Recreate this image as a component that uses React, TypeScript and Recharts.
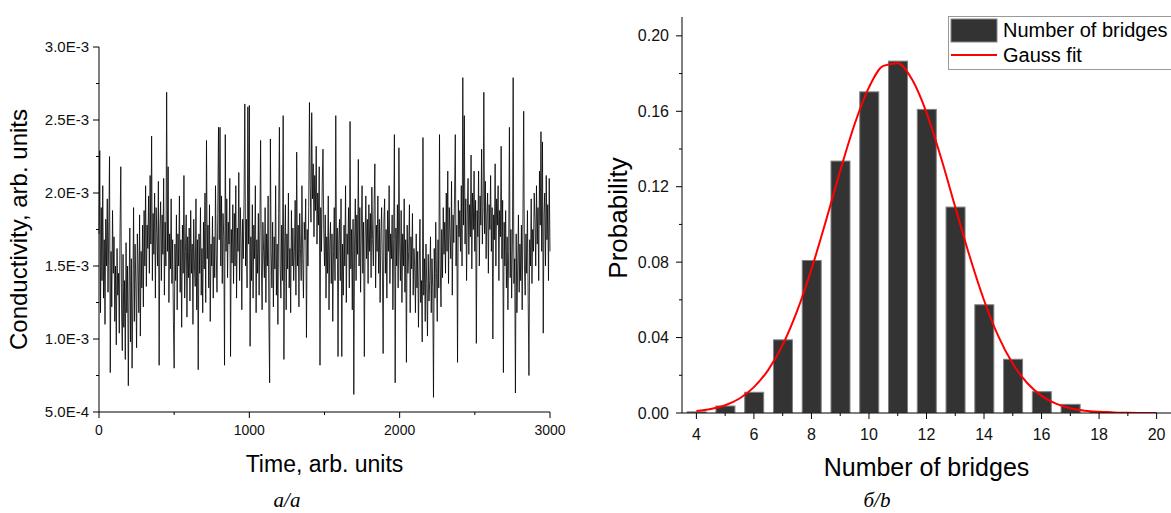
import {
  Bar,
  ComposedChart,
  Legend,
  Line,
  LineChart,
  XAxis,
  YAxis,
} from "recharts";

const FONT = "'Liberation Sans', Arial, sans-serif";

// left panel: conductivity, sampled every 5 time units, in 1e-5 units
const timeStep = 5;
const conductivity = [
  172, 229, 118, 190, 140, 205, 128, 168, 110, 182, 150, 196, 132, 176, 225, 77, 160, 122, 188, 145,
  170, 112, 150, 96, 162, 130, 145, 104, 176, 218, 120, 92, 158, 108, 140, 86, 166, 118, 150, 68,
  132, 176, 98, 155, 80, 128, 190, 112, 165, 138, 94, 172, 150, 118, 185, 102, 160, 135, 178, 122,
  188, 150, 205, 136, 178, 162, 198, 145, 212, 165, 239, 140, 186, 158, 200, 128, 190, 172, 150, 208,
  82, 176, 194, 140, 185, 158, 210, 130, 180, 150, 269, 160, 218, 125, 172, 148, 196, 138, 168, 112,
  80, 165, 140, 185, 120, 172, 150, 198, 132, 168, 108, 178, 145, 212, 128, 160, 185, 115, 170, 142,
  176, 126, 188, 145, 165, 110, 182, 150, 136, 196, 120, 168, 79, 172, 145, 190, 130, 162, 118, 180,
  148, 200, 125, 236, 155, 178, 135, 192, 112, 165, 150, 184, 128, 170, 142, 205, 158, 132, 186, 245,
  168, 245, 150, 198, 138, 186, 170, 82, 240, 160, 196, 142, 180, 165, 210, 88, 175, 152, 192, 138,
  186, 150, 205, 128, 176, 160, 214, 140, 190, 168, 120, 182, 155, 198, 261, 150, 182, 135, 259, 165,
  260, 95, 170, 140, 192, 128, 178, 155, 205, 118, 168, 145, 186, 130, 175, 236, 150, 120, 180, 160,
  142, 190, 125, 172, 150, 198, 115, 70, 237, 160, 135, 180, 122, 170, 148, 205, 130, 165, 110, 186,
  245, 150, 128, 178, 140, 253, 86, 165, 192, 120, 172, 148, 200, 135, 162, 118, 188, 150, 176, 140,
  160, 195, 130, 228, 150, 178, 122, 186, 162, 140, 205, 155, 128, 180, 168, 196, 101, 175, 150, 190,
  262, 205, 180, 255, 196, 220, 170, 212, 188, 232, 165, 200, 178, 218, 82, 190, 160, 206, 230, 175,
  150, 185, 128, 170, 145, 198, 120, 165, 180, 138, 172, 112, 160, 190, 140, 253, 155, 176, 88, 168,
  182, 140, 196, 88, 165, 130, 178, 150, 205, 125, 172, 158, 190, 135, 249, 148, 175, 120, 182, 62,
  165, 196, 140, 185, 158, 223, 150, 190, 132, 176, 205, 145, 180, 88, 168, 198, 155, 182, 138, 192,
  160, 186, 142, 204, 168, 150, 192, 220, 135, 178, 160, 198, 145, 182, 125, 172, 190, 150, 90, 180,
  196, 145, 175, 128, 188, 160, 205, 138, 172, 155, 185, 120, 168, 240, 70, 176, 150, 192, 135, 231,
  165, 140, 188, 125, 172, 150, 196, 132, 168, 84, 178, 145, 160, 192, 118, 170, 148, 186, 130, 162,
  150, 118, 172, 135, 160, 108, 148, 182, 125, 140, 98, 238, 130, 155, 112, 165, 138, 102, 158, 126,
  140, 170, 118, 155, 135, 60, 162, 128, 180, 145, 112, 168, 135, 240, 150, 122, 175, 142, 190, 158,
  180, 145, 200, 160, 215, 138, 190, 172, 155, 208, 130, 185, 166, 198, 240, 150, 178, 84, 195, 170,
  188, 160, 205, 150, 279, 178, 253, 165, 196, 140, 185, 210, 158, 192, 170, 226, 148, 200, 175, 215,
  160, 195, 97, 188, 170, 215, 150, 198, 178, 230, 165, 190, 269, 172, 208, 155, 185, 200, 145, 192,
  175, 212, 160, 190, 100, 185, 168, 220, 150, 196, 178, 205, 140, 188, 170, 232, 155, 195, 77, 180,
  150, 188, 135, 170, 120, 160, 245, 142, 175, 128, 165, 279, 138, 155, 63, 172, 118, 150, 185, 132,
  165, 140, 178, 120, 185, 256, 150, 130, 172, 145, 188, 125, 75, 168, 150, 196, 138, 175, 160, 200,
  182, 150, 205, 165, 190, 140, 215, 178, 242, 160, 235, 104, 185, 200, 150, 212, 168, 192, 140, 210, 160,
];
const timeTicks = [0, 500, 1000, 1500, 2000, 2500, 3000];
const condTicks = [
  0.0005, 0.00075, 0.001, 0.00125, 0.0015, 0.00175, 0.002, 0.00225, 0.0025, 0.00275, 0.003,
];

// right panel: histogram + gauss fit
const bridges = [4, 5, 6, 7, 8, 9, 10, 11, 12, 13, 14, 15, 16, 17, 18, 19, 20];
const probability = [
  0.0006, 0.0037, 0.011, 0.0388, 0.0809, 0.1336, 0.1703, 0.1866, 0.161, 0.1092, 0.0574, 0.0285,
  0.0113, 0.0046, 0.0008, 0.0002, 0,
];
const fitX = [
  4, 4.5, 5, 5.5, 6, 6.5, 7, 7.5, 8, 8.5, 9, 9.5, 10, 10.5, 11, 11.5, 12, 12.5, 13, 13.5, 14, 14.5,
  15, 15.5, 16, 16.5, 17, 17.5, 18, 18.5, 19, 19.5, 20,
];
const fitY = [
  0.001, 0.0021, 0.0041, 0.0077, 0.0137, 0.0229, 0.0361, 0.054, 0.0762, 0.1017, 0.1284, 0.1531,
  0.1727, 0.1841, 0.1855, 0.1768, 0.1593, 0.1356, 0.1092, 0.0831, 0.0598, 0.0406, 0.0261, 0.0159,
  0.0091, 0.005, 0.0025, 0.0012, 0.0006, 0.0003, 0.0001, 0.00005, 0.00002,
];
const bridgeTicks = [4, 5, 6, 7, 8, 9, 10, 11, 12, 13, 14, 15, 16, 17, 18, 19, 20];
const probTicks = [0, 0.02, 0.04, 0.06, 0.08, 0.1, 0.12, 0.14, 0.16, 0.18, 0.2];

const condData = conductivity.map((v, i) => ({ t: i * timeStep, c: v / 1e5 }));
const barData = bridges.map((x, i) => ({ x, p: probability[i] }));
const fitData = fitX.map((x, i) => ({ x, fit: fitY[i] }));

const BAR_W = 19;

// ticks drawn by hand so minor ticks get no label
const makeTick =
  (
    orient: "left" | "bottom",
    isMajor: (v: number) => boolean,
    fmt: (v: number) => string,
    fontSize: number,
    gap: number
  ) =>
  (props: any) => {
    const { x, y, payload } = props;
    const major = isMajor(payload.value);
    const len = major ? 6 : 3;
    if (orient === "left") {
      return (
        <g>
          <line x1={x} x2={x - len} y1={y} y2={y} stroke="#000" strokeWidth={1} />
          {major && (
            <text
              x={x - gap}
              y={y}
              dy="0.35em"
              textAnchor="end"
              fontSize={fontSize}
              fontFamily={FONT}
              fill="#111"
            >
              {fmt(payload.value)}
            </text>
          )}
        </g>
      );
    }
    return (
      <g>
        <line x1={x} x2={x} y1={y} y2={y + len} stroke="#000" strokeWidth={1} />
        {major && (
          <text
            x={x}
            y={y + gap}
            dy="0.35em"
            textAnchor="middle"
            fontSize={fontSize}
            fontFamily={FONT}
            fill="#111"
          >
            {fmt(payload.value)}
          </text>
        )}
      </g>
    );
  };

// keep every bar at a fixed pixel width, centred on its category
const HistBar = (props: any) => {
  const { x, y, width, height } = props;
  if (!height || height <= 0) return <g />;
  return (
    <rect
      x={x + width / 2 - BAR_W / 2}
      y={y}
      width={BAR_W}
      height={height}
      fill="#333333"
      stroke="#808080"
      strokeWidth={1}
    />
  );
};

const LegendBox = () => (
  <svg width={242} height={56}>
    <rect x={0.5} y={0.5} width={240} height={53} fill="#fff" stroke="#999" />
    <rect x={3} y={3} width={46} height={23} fill="#333" stroke="#888" />
    <line x1={3} x2={49} y1={39} y2={39} stroke="#ff0000" strokeWidth={2} />
    <text x={55} y={21} fontSize={20} fontFamily={FONT} fill="#000">
      Number of bridges
    </text>
    <text x={55} y={46} fontSize={20} fontFamily={FONT} fill="#000">
      Gauss fit
    </text>
  </svg>
);

const captionStyle = {
  position: "absolute" as const,
  top: 488,
  fontFamily: "'Liberation Serif', 'DejaVu Serif', serif",
  fontStyle: "italic",
  fontSize: 21,
  width: 100,
  textAlign: "center" as const,
};

export default function App() {
  return (
    <div
      style={{
        position: "absolute",
        top: 0,
        left: 0,
        width: 1171,
        height: 513,
        overflow: "hidden",
        background: "#fff",
      }}
    >
      <div style={{ position: "absolute", left: 0, top: 0 }}>
        <LineChart
          width={570}
          height={513}
          data={condData}
          margin={{ top: 47, right: 20, left: 0, bottom: 0 }}
        >
          <XAxis
            dataKey="t"
            type="number"
            domain={[0, 3000]}
            ticks={timeTicks}
            interval={0}
            height={101}
            stroke="#000"
            tickLine={false}
            tickSize={0}
            tickMargin={0}
            tick={makeTick("bottom", (v) => Math.round(v / 500) % 2 === 0, (v) => String(v), 14, 18)}
            label={{
              value: "Time, arb. units",
              content: ({ viewBox }: any) => (
                <text
                  x={viewBox.x + viewBox.width / 2}
                  y={viewBox.y + 60}
                  textAnchor="middle"
                  fontSize={23}
                  fontFamily={FONT}
                  fill="#000"
                >
                  Time, arb. units
                </text>
              ),
            }}
          />
          <YAxis
            type="number"
            domain={[0.0005, 0.003]}
            ticks={condTicks}
            interval={0}
            width={99}
            stroke="#000"
            tickLine={false}
            tickSize={0}
            tickMargin={0}
            allowDataOverflow
            tick={makeTick(
              "left",
              (v) => Math.round(v / 0.00025) % 2 === 0,
              (v) => v.toExponential(1).toUpperCase(),
              15,
              10
            )}
            label={{
              value: "Conductivity, arb. units",
              content: ({ viewBox }: any) => {
                const cy = viewBox.y + viewBox.height / 2;
                return (
                  <text
                    x={27}
                    y={cy}
                    transform={`rotate(-90, 27, ${cy})`}
                    textAnchor="middle"
                    fontSize={24}
                    fontFamily={FONT}
                    fill="#000"
                  >
                    Conductivity, arb. units
                  </text>
                );
              },
            }}
          />
          <Line
            type="linear"
            dataKey="c"
            stroke="#000"
            strokeWidth={0.8}
            dot={false}
            isAnimationActive={false}
          />
        </LineChart>
      </div>

      <div style={{ position: "absolute", left: 571, top: 0 }}>
        <ComposedChart
          width={600}
          height={513}
          data={barData}
          margin={{ top: 17, right: 0, left: 0, bottom: 0 }}
        >
          <XAxis
            dataKey="x"
            type="number"
            domain={[3.5, 20.5]}
            ticks={bridgeTicks}
            interval={0}
            height={100}
            stroke="#000"
            allowDataOverflow
            tickLine={false}
            tickSize={0}
            tickMargin={0}
            tick={makeTick("bottom", (v) => v % 2 === 0, (v) => String(v), 16, 21)}
            label={{
              value: "Number of bridges",
              content: ({ viewBox }: any) => (
                <text
                  x={viewBox.x + viewBox.width / 2}
                  y={viewBox.y + 63}
                  textAnchor="middle"
                  fontSize={25}
                  fontFamily={FONT}
                  fill="#000"
                >
                  Number of bridges
                </text>
              ),
            }}
          />
          <YAxis
            type="number"
            domain={[0, 0.21]}
            ticks={probTicks}
            interval={0}
            width={111}
            stroke="#000"
            allowDataOverflow
            tickLine={false}
            tickSize={0}
            tickMargin={0}
            tick={makeTick(
              "left",
              (v) => Math.round(v / 0.02) % 2 === 0,
              (v) => v.toFixed(2),
              16,
              13
            )}
            label={{
              value: "Probability",
              content: ({ viewBox }: any) => {
                const cy = viewBox.y + viewBox.height / 2 + 3;
                return (
                  <text
                    x={56}
                    y={cy}
                    transform={`rotate(-90, 56, ${cy})`}
                    textAnchor="middle"
                    fontSize={26}
                    fontFamily={FONT}
                    fill="#000"
                  >
                    Probability
                  </text>
                );
              },
            }}
          />
          <Legend
            layout="vertical"
            align="center"
            verticalAlign="middle"
            content={() => <LegendBox />}
            wrapperStyle={{ position: "absolute", left: 377, top: 16, width: 242, height: 56 }}
          />
          <Bar
            dataKey="p"
            name="Number of bridges"
            barSize={BAR_W}
            shape={HistBar}
            isAnimationActive={false}
          />
          <Line
            data={fitData}
            type="monotone"
            dataKey="fit"
            name="Gauss fit"
            stroke="#ff0000"
            strokeWidth={2}
            dot={false}
            isAnimationActive={false}
          />
        </ComposedChart>
      </div>

      <div style={{ ...captionStyle, left: 237 }}>а/a</div>
      <div style={{ ...captionStyle, left: 827 }}>б/b</div>
    </div>
  );
}
